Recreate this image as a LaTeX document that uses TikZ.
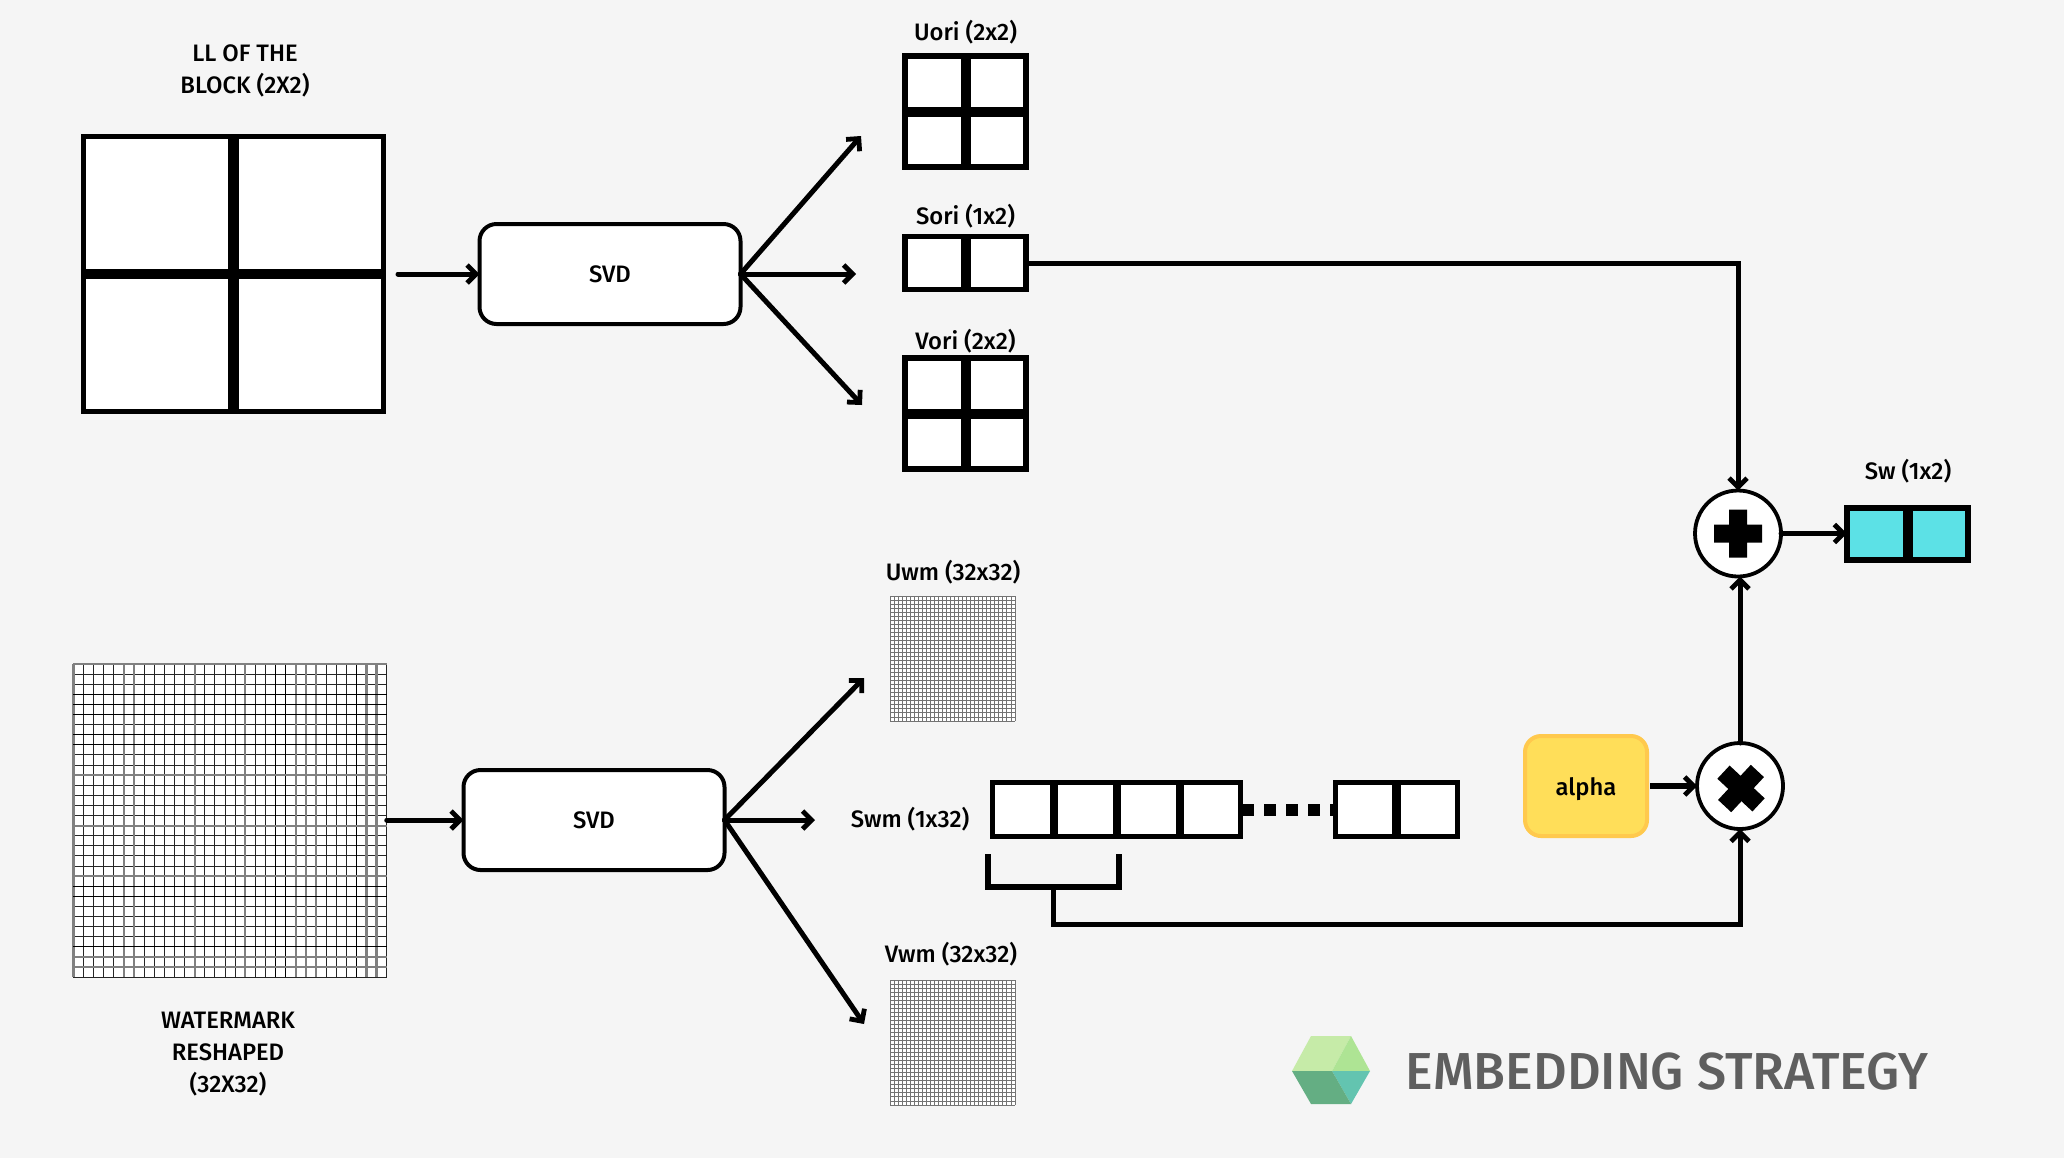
\documentclass[tikz,border=0pt]{standalone}
\usepackage{fontspec}
\setmainfont{Fira Sans}[UprightFont=* Medium]
\usetikzlibrary{arrows.meta}
\definecolor{bg}{HTML}{F5F5F5}
\definecolor{tealfill}{HTML}{5CE1E6}
\definecolor{alphafill}{HTML}{FFDE59}
\definecolor{alphaline}{HTML}{FFC94D}
\definecolor{hexa}{HTML}{C6EBA8}
\definecolor{hexb}{HTML}{AEE494}
\definecolor{hexc}{HTML}{63C4B0}
\definecolor{hexd}{HTML}{64AE83}
\definecolor{titlegrey}{HTML}{5F5F5F}
\tikzset{
  lbl/.style={font=\fontsize{11.9pt}{15.9pt}\selectfont,align=center,inner sep=0pt,text=black},
  cellbox/.style={draw=black,fill=white,line width=2.9pt,inner sep=0pt,outer sep=0pt},
  svdbox/.style={draw=black,fill=white,line width=2pt,rounded corners=8.5pt,inner sep=0pt,outer sep=0pt,minimum width=130.5pt,minimum height=50pt,font=\fontsize{11.9pt}{12pt}\selectfont},
  opcircle/.style={circle,draw=black,fill=white,line width=1.9pt,inner sep=0pt,outer sep=0pt,minimum size=43pt},
  conn/.style={-{Straight Barb[length=4.5pt,width=9pt,line width=2.4pt]},line width=2.5pt,line cap=round,line join=miter},
  plain/.style={line width=2.7pt,line join=miter},
  divider/.style={line width=5pt},
  stripdiv/.style={line width=4.4pt},
  gridbox/.style={draw=none,fill=white,inner sep=0pt,outer sep=0pt},
  gridthin/.style={black!85,line width=0.5pt},
  gridthick/.style={black!50,line width=1.1pt},
  gridblack/.style={black,line width=0.65pt},
  smallgrid/.style={black!55,line width=0.4pt},
}
\newcommand{\fourcell}[1]{%
  \draw[divider] (#1.north) -- (#1.south);
  \draw[divider] (#1.west) -- (#1.east);}
\newcommand{\wmv}[2]{\draw[#1] (73.5+#2*10.1,663.5) -- (73.5+#2*10.1,976.5);}
\newcommand{\wmh}[2]{\draw[#1] (73,664+#2*10.1) -- (387,664+#2*10.1);}
\begin{document}
\begin{tikzpicture}[x=0.5pt,y=-0.5pt]
\useasboundingbox (0,0) rectangle (2064,1158);
\fill[bg] (0,0) rectangle (2064,1158);

% LL block
\node[cellbox,line width=2.6pt,minimum width=150pt,minimum height=137.5pt] (ll) at (233.5,274) {};
\draw[line width=5.5pt] (ll.north) -- (ll.south);
\draw[line width=5pt] (ll.west) -- (ll.east);
\node[lbl] (lltxt) at (245,71) {LL OF THE\\BLOCK (2X2)};

% SVD 1
\node[svdbox] (svda) at (610,274) {SVD};
\coordinate (lltail) at (398,274);
\draw[conn] (lltail) -- (svda.west);
\coordinate (tipu) at (861,136);
\coordinate (tips) at (856,274);
\coordinate (tipv) at (862,405);
\draw[conn] (svda.east) -- (tipu);
\draw[conn] (svda.east) -- (tips);
\draw[conn] (svda.east) -- (tipv);

% U, S, V original
\node[lbl] (uoritxt) at (965.5,32) {Uori (2x2)};
\node[cellbox,minimum width=60.5pt,minimum height=55.5pt] (uori) at (965.5,111.5) {};
\fourcell{uori}
\node[lbl] (soritxt) at (965.5,216) {Sori (1x2)};
\node[cellbox,minimum width=60.5pt,minimum height=26.5pt] (sori) at (965.5,263) {};
\draw[divider] (sori.north) -- (sori.south);
\node[lbl] (voritxt) at (965.5,341) {Vori (2x2)};
\node[cellbox,minimum width=60.5pt,minimum height=55.5pt] (vori) at (965.5,413.5) {};
\fourcell{vori}

% Operators
\node[opcircle] (plus) at (1738,533.5) {};
\fill (plus.center) ++(-24,-9) -- ++(15,0) -- ++(0,-15) -- ++(18,0) -- ++(0,15) -- ++(15,0) -- ++(0,18) -- ++(-15,0) -- ++(0,15) -- ++(-18,0) -- ++(0,-15) -- ++(-15,0) -- cycle;
\node[opcircle] (times) at (1740,786) {};
\begin{scope}[shift={(1741,788.5)},rotate=47]
\fill (-24,-9) -- (-9,-9) -- (-9,-24) -- (9,-24) -- (9,-9) -- (24,-9) -- (24,9) -- (9,9) -- (9,24) -- (-9,24) -- (-9,9) -- (-24,9) -- cycle;
\end{scope}

% Sw
\node[lbl] (swtxt) at (1908,471) {Sw (1x2)};
\node[cellbox,fill=tealfill,minimum width=60.75pt,minimum height=26.25pt] (sw) at (1907.5,534) {};
\draw[divider] (sw.north) -- (sw.south);
\draw[conn] (plus.east) -- (plus.east -| sw.west);
\draw[conn] (sori.east) -| (plus.north);
\draw[conn] (times.north) -- (times.north |- plus.south);

% alpha
\node[draw=alphaline,fill=alphafill,line width=2pt,rounded corners=8pt,minimum width=61pt,minimum height=50pt,inner sep=0pt,outer sep=0pt,text depth=0pt,font=\fontsize{11.9pt}{12pt}\selectfont] (alpha) at (1586,786) {alpha};
\draw[-{Straight Barb[length=4.5pt,width=9pt,line width=2.4pt]},line width=3pt] (alpha.east) ++(3,0) -- (times.west);

% Watermark
\node[gridbox,minimum width=156.75pt,minimum height=156.5pt] (wm) at (230,820) {};
\foreach \i in {0,...,31} {\wmv{gridthin}{\i} \wmh{gridthin}{\i}}
\foreach \i in {0,5,6,12,17,22,23,24,29,30} {\wmv{gridthick}{\i}}
\foreach \i in {20,21,28} {\wmv{gridblack}{\i}}
\foreach \i in {0,11,16,21,29,30} {\wmh{gridthick}{\i}}
\foreach \i in {3,4,5,7,8,22,23,28} {\wmh{gridblack}{\i}}
\node[lbl] (wmtxt) at (228,1054) {WATERMARK\\[0.3pt]RESHAPED\\[0.3pt](32X32)};

% SVD 2
\node[svdbox] (svdb) at (594,820) {SVD};
\draw[conn] (wm.east) -- (svdb.west);
\coordinate (tipuw) at (864,678);
\coordinate (tipsw) at (815,820);
\coordinate (tipvw) at (864,1024);
\draw[conn] (svdb.east) -- (tipuw);
\draw[conn] (svdb.east) -- (tipsw);
\draw[conn] (svdb.east) -- (tipvw);

% Uwm / Vwm
\node[lbl] (uwtxt) at (953,572) {Uwm (32x32)};
\node[gridbox,minimum width=62.5pt,minimum height=62.5pt] (uwm) at (952.5,658) {};
\foreach \i in {0,...,31} {
  \draw[smallgrid] (890+\i*4.03,596) -- (890+\i*4.03,721);
  \draw[smallgrid] (890,596+\i*4.03) -- (1015,596+\i*4.03);
}
\node[lbl] (vwtxt) at (951,954) {Vwm (32x32)};
\node[gridbox,minimum width=62.5pt,minimum height=62.5pt] (vwm) at (952.5,1042) {};
\foreach \i in {0,...,31} {
  \draw[smallgrid] (890+\i*4.03,980) -- (890+\i*4.03,1105);
  \draw[smallgrid] (890,980+\i*4.03) -- (1015,980+\i*4.03);
}

% Swm strip
\node[lbl] (swmtxt) at (910,819) {Swm (1x32)};
\node[cellbox,line width=2.5pt,minimum width=124pt,minimum height=27pt] (stripa) at (1116.5,809.5) {};
\foreach \x in {1054,1117,1180} \draw[stripdiv] (\x,782) -- (\x,837);
\node[cellbox,line width=2.5pt,minimum width=61pt,minimum height=27pt] (stripb) at (1396.5,809.5) {};
\draw[stripdiv] (stripb.north) -- (stripb.south);
\draw[line width=6pt,dash pattern=on 6pt off 5pt] (stripa.east) ++(1.5,0) -- (stripb.west);

% Bracket
\coordinate (brl) at (988,854);
\coordinate (brr) at (1119,854);
\coordinate (brm) at (1053,887);
\coordinate (brc) at (1053,924);
\draw[plain] (brl) |- (brr |- brm) -- (brr);
\draw[conn] (brm) -- (brc) -| (times.south);

% Logo
\coordinate (hl) at (1292,1071);
\coordinate (htl) at (1311,1036);
\coordinate (htr) at (1351,1036);
\coordinate (hr) at (1370,1071);
\coordinate (hbr) at (1351,1104);
\coordinate (hbl) at (1311,1104);
\coordinate (hc) at (1332,1071);
\fill[hexa] (hl) -- (htl) -- (htr) -- (hc) -- cycle;
\fill[hexb] (htr) -- (hr) -- (hc) -- cycle;
\fill[hexc] (hc) -- (hr) -- (hbr) -- cycle;
\fill[hexd] (hl) -- (hc) -- (hbr) -- (hbl) -- cycle;
\node[inner sep=0pt,anchor=center,text=titlegrey,font=\fontsize{26pt}{28pt}\selectfont] (title) at (1667,1071.5) {EMBEDDING STRATEGY};
\end{tikzpicture}
\end{document}
